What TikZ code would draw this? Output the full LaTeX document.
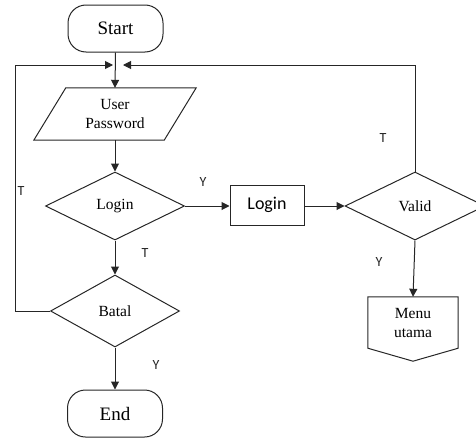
\documentclass[tikz,border=0pt]{standalone}
\usepackage{fontspec}
\setmainfont{Liberation Serif}
\newfontfamily\calib{Carlito}
\usetikzlibrary{shapes.geometric,arrows.meta}

\tikzset{
  line/.style={draw=black!85, line width=1pt},
  flow/.style={line, -{Triangle[length=8pt,width=8pt]}},
  terminal/.style={line, rectangle, rounded corners=18pt, minimum width=95pt,
    minimum height=47pt, inner sep=0pt, font=\fontsize{19}{21}\selectfont},
  decision/.style={line, diamond, inner sep=0pt, font=\fontsize{15.5}{18}\selectfont},
  process/.style={line, rectangle, minimum width=74pt, minimum height=40pt,
    inner sep=0pt, font=\calib\fontsize{18}{20}\selectfont},
  plain/.style={rectangle, inner sep=0pt, align=center,
    font=\fontsize{15.5}{18}\selectfont},
  tag/.style={font=\calib\fontsize{14}{15}\selectfont, text=black!85, inner sep=0pt}
}

\begin{document}
\begin{tikzpicture}[x=1pt, y=-1pt]
  \useasboundingbox (0,0) rectangle (476,439);

  % terminals
  \node[terminal] (start) at (115.5,28.5) {Start};
  \node[terminal] (end)   at (115,413.5) {End};

  % input: user / password (parallelogram drawn around the node box)
  \node[plain, minimum width=130pt, minimum height=52pt] (io) at (115,114)
    {User\\[1pt]Password};
  \draw[line] ([xshift=16pt]io.north west) -- ([xshift=16pt]io.north east)
    -- ([xshift=-16pt]io.south east) -- ([xshift=-16pt]io.south west) -- cycle;

  % decisions
  \node[decision, minimum width=139pt, minimum height=68pt] (login) at (115,206) {Login};
  \node[decision, minimum width=129pt, minimum height=72pt] (batal) at (115,311) {Batal};
  \node[decision, minimum width=140pt, minimum height=68pt] (valid) at (415,206) {Valid};

  % process
  \node[process] (loginbox) at (267,205) {Login};

  % off-page connector: menu utama
  \node[plain, minimum width=90pt, minimum height=51pt] (menu) at (413,322.5)
    {Menu\\[1pt]utama};
  \draw[line] (menu.north west) -- (menu.north east) -- (menu.south east)
    -- ([yshift=-13pt]menu.south) -- (menu.south west) -- cycle;

  % merge points above the input
  \coordinate (jl) at (113,65);
  \coordinate (jr) at (123,65);
  \coordinate (lc) at (15,65);

  % connectors
  \draw[flow] (start.south) -- (io.north);
  \draw[flow] (io.south) -- (login.north);
  \draw[flow] (login.east) -- (loginbox.west |- login.east);
  \draw[flow] (loginbox.east |- valid.west) -- (valid.west);
  \draw[flow] (valid.south) -- (menu.north);
  \draw[flow] (valid.north) |- (jr);
  \draw[flow] (login.south) -- (batal.north);
  \draw[flow] (batal.south) -- (end.north);
  \draw[flow] (batal.west) -| (lc) -- (jl);

  % branch labels
  \node[tag] at (21,191)  {T};
  \node[tag] at (203,182) {Y};
  \node[tag] at (145,253) {T};
  \node[tag] at (156,365) {Y};
  \node[tag] at (383,138) {T};
  \node[tag] at (379,262) {Y};
\end{tikzpicture}
\end{document}
